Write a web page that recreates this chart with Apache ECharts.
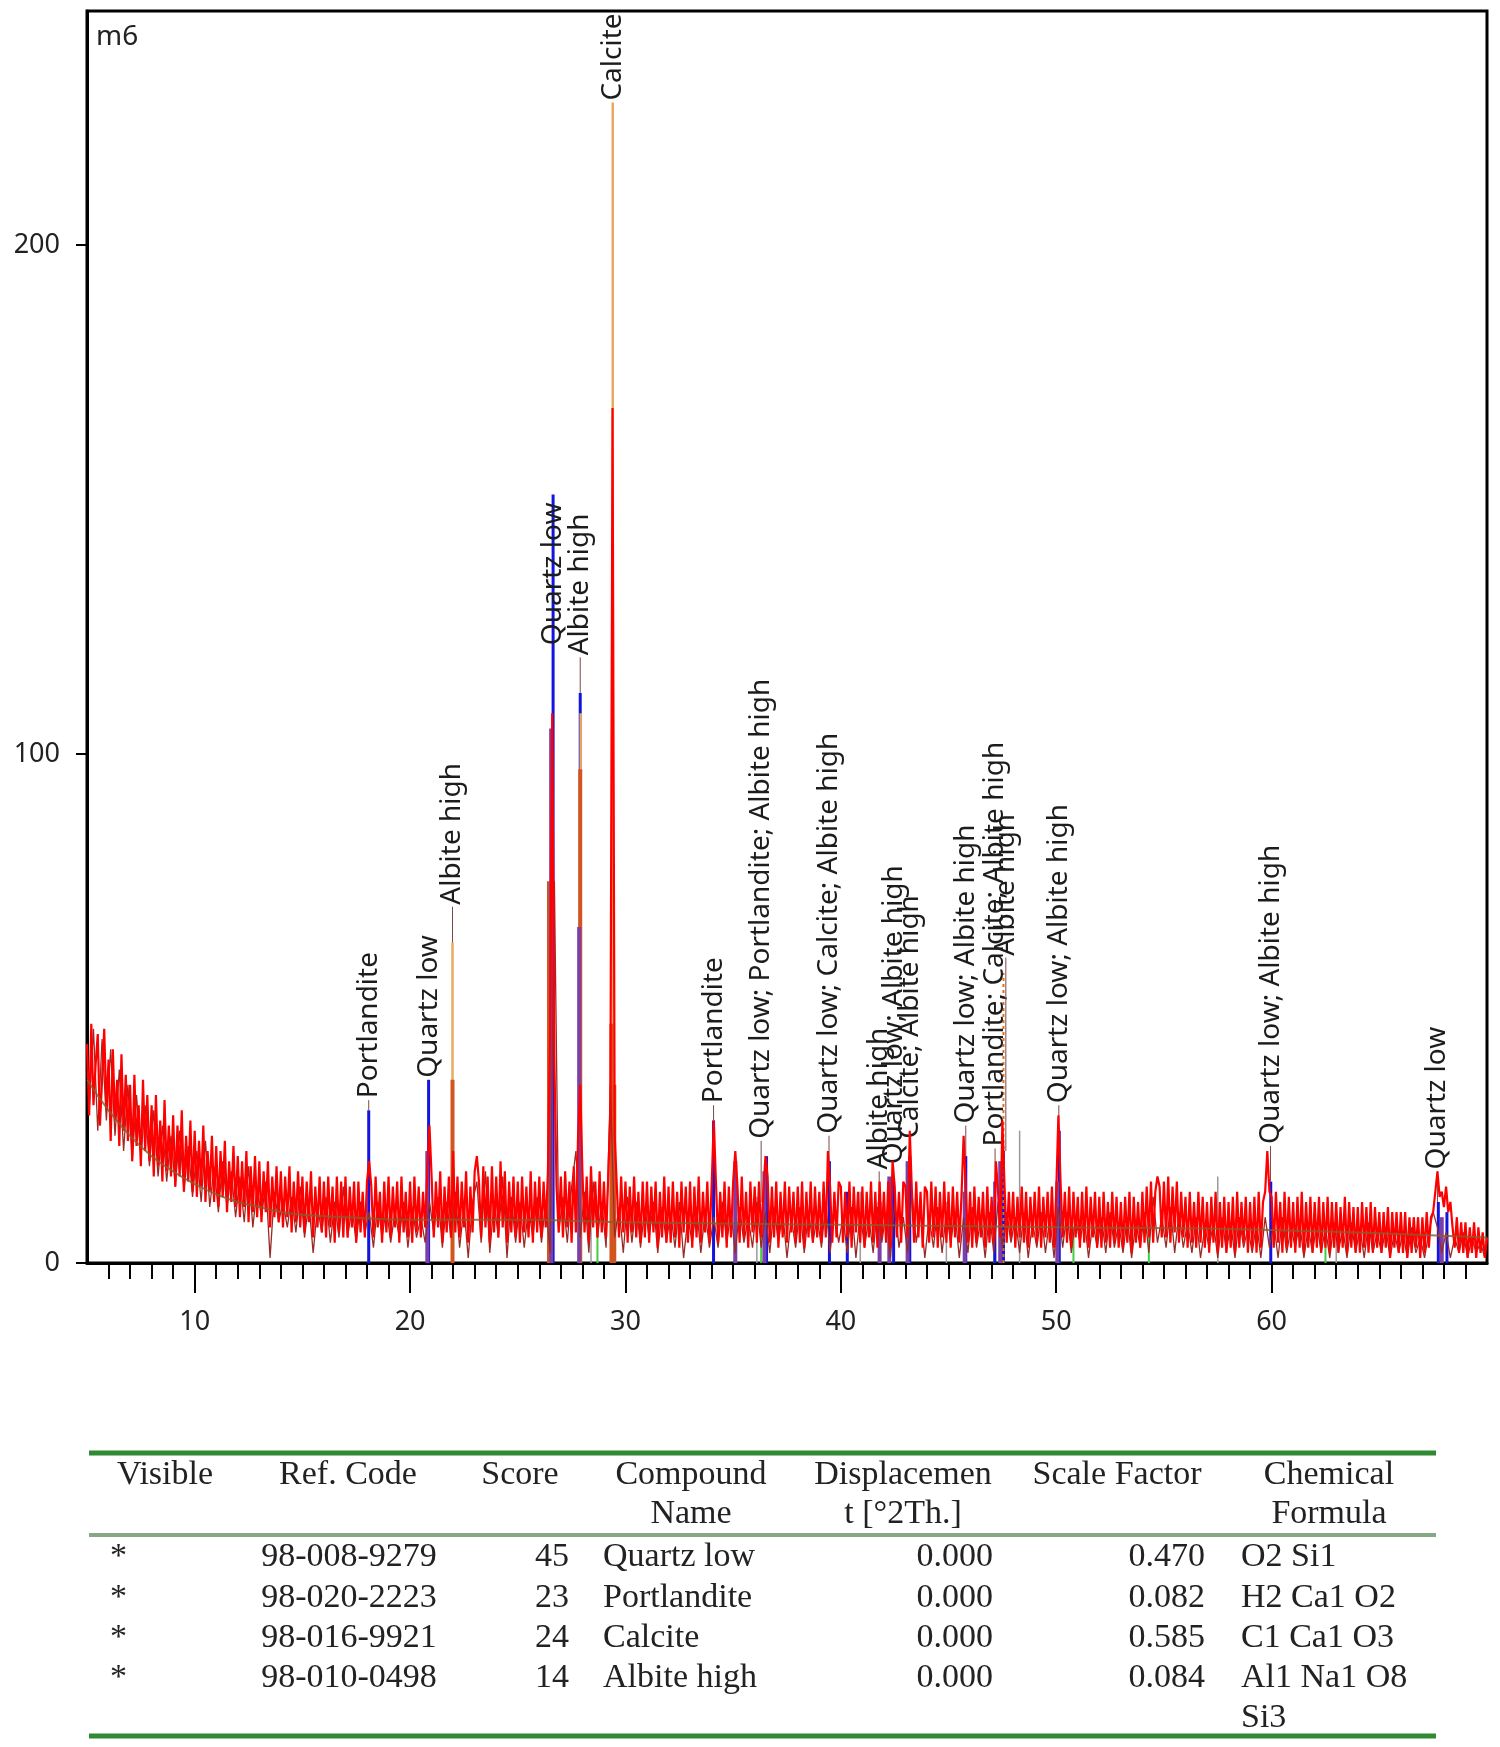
<!DOCTYPE html>
<html>
<head>
<meta charset="utf-8">
<title>m6</title>
<script src="https://cdn.jsdelivr.net/npm/echarts@6/dist/echarts.min.js"></script>
<style>
html, body { margin: 0; padding: 0; background: #fff; }
#chart { width: 1500px; height: 1747px; }
</style>
</head>
<body>
<div id="chart"></div>
<script>
// observed scan, counts, from 5.0 °2Th in steps of 0.1
var obsStart = 5.0, obsStep = 0.1;
var observed = [
43,29,47,31,39,45,27,36,46,30, 40,24,42,28,36,23,41,26,37,24,
35,20,37,23,31,19,36,22,33,20, 31,17,33,19,28,16,32,18,27,17,
29,15,27,17,30,14,25,16,28,14, 26,13,24,15,27,12,22,14,25,12,
23,11,22,13,24,10,20,12,23,11, 21,9,20,11,22,8,19,10,21,9,
20,8,18,10,20,7,17,9,19,8, 18,7,17,9,19,6,16,8,18,7,
17,6,16,8,18,5,15,7,17,6, 16,5,17,7,15,4,17,6,16,5,
17,5,15,7,16,4,16,6,14,5, 16,20,15,5,17,7,14,4,16,6,
17,5,15,7,16,4,17,6,14,5, 16,4,17,6,15,5,14,7,18,27,
17,5,16,7,18,4,15,6,17,5, 22,6,17,5,16,7,18,4,15,6,
18,21,16,5,19,7,17,4,19,6, 17,5,20,7,18,4,16,6,17,5,
16,4,17,6,15,5,18,4,16,6, 17,5,16,7,18,45,108,40,15,6,
17,5,18,7,16,4,19,6,25,35, 18,6,17,4,19,7,16,5,18,6,
16,5,17,30,168,25,15,5,17,6, 16,4,15,6,17,5,14,4,16,5,
16,4,15,6,16,3,14,5,17,4, 15,4,16,5,14,3,16,6,15,4,
16,3,15,5,17,4,14,6,16,4, 15,28,16,4,14,5,16,3,15,5,
16,22,15,4,17,5,14,3,16,6, 15,4,16,5,14,21,17,4,15,5,
16,3,14,5,16,4,15,6,14,4, 15,4,16,3,14,5,16,4,15,5,
14,4,16,5,22,15,4,14,5,16, 15,4,14,5,16,3,15,6,14,4,
15,3,14,5,16,4,14,3,16,5, 14,4,16,3,20,15,5,14,4,16,
15,5,26,14,4,16,5,14,3,15, 14,4,16,5,15,3,14,5,16,4,
14,3,15,5,14,4,13,25,15,4, 14,3,15,4,13,5,14,3,15,4,
13,4,20,14,5,28,15,4,14,5, 14,3,13,5,15,4,14,3,13,5,
14,4,15,3,13,5,14,4,15,3, 14,29,16,5,14,4,15,3,14,5,
13,3,14,4,15,3,13,5,14,3, 13,3,14,4,12,3,14,4,13,3,
12,3,13,4,14,2,13,4,12,3, 14,4,15,5,16,4,14,17,15,5,
16,5,17,4,15,6,16,4,14,5, 13,3,14,4,12,3,14,4,13,3,
12,2,13,4,14,2,12,3,13,2, 12,3,13,2,14,3,12,4,13,2,
12,3,13,2,14,3,12,14,22,14, 13,3,14,4,12,2,14,3,13,3,
12,2,13,3,14,2,12,3,13,2, 12,3,13,2,12,3,13,2,12,3,
12,2,11,3,13,2,12,3,11,2, 11,2,12,3,11,2,12,2,11,3,
10,2,10,3,11,1,10,3,10,2, 10,2,10,1,9,2,9,3,9,1,
9,2,10,3,9,10,14,18,13,14, 11,15,10,12,7,3,9,2,8,2,
8,1,7,2,8,1,7,2,6,1,
5
];

// second (raw) trace, from 5.1 °2Th in steps of 0.2
var rawStart = 5.1, rawStep = 0.2;
var rawScan = [
30,46,26,44,28, 42,25,38,22,35, 20,33,21,31,19, 30,17,27,16,25,
15,26,14,23,13, 22,12,24,11,19, 10,20,11,18,9, 17,8,19,7,15,
9,16,1,14,8, 12,7,13,6,15, 5,12,2,11,6, 13,4,12,5,15,
5,11,4,12,6, 10,3,12,5,11, 4,10,5,12,3, 11,5,9,4,12,
6,13,3,12,5, 14,3,11,1,12, 16,4,18,2,12, 5,17,1,13,4,
12,3,11,5,13, 4,12,2,75,6, 13,4,15,22,5, 14,2,16,5,12,
3,35,5,11,2, 13,4,12,3,11, 5,12,2,11,4, 10,3,12,1,9,
4,11,2,10,3, 9,3,12,4,10, 2,11,4,9,3, 12,3,10,2,11,
4,10,1,9,3, 11,2,10,4,9, 3,12,2,10,4, 9,2,11,1,10,
3,9,2,11,4, 10,1,12,3,9, 2,14,4,10,1, 9,3,11,2,10,
4,10,1,9,2, 11,3,9,1,10, 2,12,3,10,4, 9,2,10,1,8,
3,10,2,9,1, 11,3,10,2,9, 4,9,1,8,3, 9,2,10,3,8,
2,9,1,8,3, 10,2,13,4,9, 3,11,2,10,3, 8,2,9,1,7,
3,8,1,9,2, 8,1,9,3,7, 2,8,1,9,3, 8,1,9,2,7,
3,8,1,7,2, 8,2,7,1,8, 2,7,1,8,2, 7,1,8,2,6,
2,7,1,6,2, 6,1,7,2,5, 1,6,10,7,2, 6,1,5,2,6,
1,5,2,4,1
];

// fitted background
var bgX = [5, 6, 7, 8, 9, 10, 11, 12, 13, 14, 15, 17, 20, 25, 30, 40, 50, 60, 70];
var bgY = [36, 30, 25, 21, 18, 15.5, 13.5, 12, 11, 10, 9.5, 9, 8.5, 8.5, 8, 7.5, 7, 6.5, 5];

// peak profiles [2Th, counts]
var bluePeaks = [[18.08, 30], [20.86, 36], [26.64, 151], [27.9, 112], [34.09, 28], [35.1, 18],
  [36.55, 21], [39.47, 20], [40.3, 14], [42.45, 16], [43.2, 21], [45.8, 21], [47.15, 16],
  [47.55, 22], [50.14, 26], [59.96, 16], [67.74, 12], [68.14, 10]];
var tanPeaks = [[21.97, 63], [27.92, 108], [29.41, 228]];
var orangePeaks = [[21.97, 36], [26.45, 75], [27.9, 97], [29.35, 47], [29.48, 35]];
var purplePeaks = [[20.8, 22], [26.55, 105], [27.85, 66], [35.1, 20], [36.45, 18], [41.8, 12],
  [42.25, 17], [43.1, 20], [45.75, 14], [47.4, 20], [50.05, 16], [67.9, 9]];
var greenSticks = [[18.08, 9], [28.7, 7], [34.09, 10], [36.3, 8], [47.12, 9], [50.8, 7], [54.3, 6], [62.5, 6]];
var lightBlueSticks = [[20.86, 10], [26.64, 14], [29.41, 12], [39.47, 8], [50.14, 8]];
var graySticks = [[28.4, 15], [36.1, 13], [40.9, 14], [44.9, 12], [48.3, 26], [57.5, 17], [63.0, 11]];
var dottedSticks = [[47.55, 57]];

// peak labels [2Th, peak top, label foot, text]
var peakLabels = [
  [18.08, 30, 32, 'Portlandite'],
  [20.86, 36, 36, 'Quartz low'],
  [21.97, 63, 70, 'Albite high'],
  [26.64, 121, 121, 'Quartz low'],
  [27.9, 112, 119, 'Albite high'],
  [29.41, 228, 228, 'Calcite'],
  [34.09, 28, 31, 'Portlandite'],
  [36.3, 12, 24, 'Quartz low; Portlandite; Albite high'],
  [39.45, 20, 25, 'Quartz low; Calcite; Albite high'],
  [41.78, 12, 18, 'Albite high'],
  [42.45, 16, 19, 'Quartz low; Albite high'],
  [43.2, 21, 24, 'Calcite; Albite high'],
  [45.8, 21, 27, 'Quartz low; Albite high'],
  [47.16, 16, 22.5, 'Portlandite; Calcite; Albite high'],
  [47.66, 22, 60, 'Albite high'],
  [50.12, 26, 31, 'Quartz low; Albite high'],
  [59.95, 16, 23, 'Quartz low; Albite high'],
  [67.7, 12, 18, 'Quartz low']
];

var xMajorTicks = [10, 20, 30, 40, 50, 60];
var yTicks = [0, 100, 200];

// phase table
var tableHeader = [['Visible'], ['Ref. Code'], ['Score'], ['Compound', 'Name'],
  ['Displacemen', 't [°2Th.]'], ['Scale Factor'], ['Chemical', 'Formula']];
var tableRows = [
  ['*', '98-008-9279', '45', 'Quartz low', '0.000', '0.470', 'O2 Si1'],
  ['*', '98-020-2223', '23', 'Portlandite', '0.000', '0.082', 'H2 Ca1 O2'],
  ['*', '98-016-9921', '24', 'Calcite', '0.000', '0.585', 'C1 Ca1 O3'],
  ['*', '98-010-0498', '14', 'Albite high', '0.000', '0.084', 'Al1 Na1 O8\nSi3']
];

var xMinorTicks = [];
for (var t = 6; t < 70; t++) {
  if (t % 10 !== 0) xMinorTicks.push(t);
}

function toPairs(start, step, vals) {
  var out = [];
  for (var i = 0; i < vals.length; i++) {
    out.push([+(start + i * step).toFixed(2), vals[i]]);
  }
  return out;
}

var bgData = [];
for (var b = 0; b < bgX.length; b++) bgData.push([bgX[b], bgY[b]]);

function stickSeries(name, data, color, width, dash) {
  return {
    type: 'custom',
    name: name,
    silent: true,
    encode: { x: 0, y: 1 },
    data: data,
    renderItem: function(params, api) {
      var top = api.coord([api.value(0), api.value(1)]);
      var base = api.coord([api.value(0), 0]);
      return {
        type: 'line',
        shape: { x1: base[0], y1: base[1], x2: top[0], y2: top[1] },
        style: { stroke: color, lineWidth: width, lineDash: dash || null }
      };
    }
  };
}

var labelFont = '28px "Noto Sans", sans-serif';
var tableFont = '34px "Liberation Serif", serif';

var labelSeries = {
  type: 'custom',
  name: 'labels',
  silent: true,
  encode: { x: 0, y: 2 },
  data: peakLabels.map(function(d) { return [d[0], d[1], d[2]]; }),
  renderItem: function(params, api) {
    var x = api.value(0);
    var p0 = api.coord([x, api.value(1)]);
    var p1 = api.coord([x, api.value(2)]);
    return {
      type: 'group',
      children: [{
        type: 'line',
        shape: { x1: p0[0], y1: p0[1], x2: p1[0], y2: p1[1] },
        style: { stroke: '#7a4a4a', lineWidth: 1 }
      }, {
        type: 'text',
        x: p1[0],
        y: p1[1] - 2,
        rotation: Math.PI / 2,
        style: {
          text: peakLabels[params.dataIndex][3],
          fill: '#1c1c1c',
          font: labelFont,
          align: 'left', verticalAlign: 'middle',
          textAlign: 'left', textVerticalAlign: 'middle'
        }
      }]
    };
  }
};

// table graphics
var tableLeft = 89, tableRight = 1436;
var headerCenters = [165, 348, 520, 691, 903, 1117, 1329];
var cellPos = [[110, 'left'], [349, 'center'], [569, 'right'], [603, 'left'], [993, 'right'], [1205, 'right'], [1241, 'left']];
var rowTops = [1537, 1578, 1618, 1658];
var graphics = [
  { type: 'text', x: 96, y: 37, style: { text: 'm6', font: '28px "Noto Sans", sans-serif', fill: '#222',
    align: 'left', verticalAlign: 'middle', textAlign: 'left', textVerticalAlign: 'middle' } },
  { type: 'line', shape: { x1: tableLeft, y1: 1453, x2: tableRight, y2: 1453 }, style: { stroke: '#2f8a33', lineWidth: 5 } },
  { type: 'line', shape: { x1: tableLeft, y1: 1535, x2: tableRight, y2: 1535 }, style: { stroke: '#86a886', lineWidth: 4 } },
  { type: 'line', shape: { x1: tableLeft, y1: 1736, x2: tableRight, y2: 1736 }, style: { stroke: '#2f8a33', lineWidth: 5 } }
];
tableHeader.forEach(function(h, i) {
  graphics.push({ type: 'text', x: headerCenters[i], y: 1456, style: {
    text: h.join('\n'), font: tableFont, fill: '#222', lineHeight: 39,
    align: 'center', verticalAlign: 'top', textAlign: 'center', textVerticalAlign: 'top' } });
});
tableRows.forEach(function(r, j) {
  r.forEach(function(cell, i) {
    graphics.push({ type: 'text', x: cellPos[i][0], y: rowTops[j], style: {
      text: cell, font: tableFont, fill: '#222', lineHeight: 40,
      align: cellPos[i][1], verticalAlign: 'top', textAlign: cellPos[i][1], textVerticalAlign: 'top' } });
  });
});

var chart = echarts.init(document.getElementById('chart'));
chart.setOption({
  animation: false,
  backgroundColor: '#fff',
  grid: { left: 87, right: 13, top: 11, bottom: 484, show: true, borderColor: '#000', borderWidth: 3 },
  xAxis: [{
    type: 'value', min: 5, max: 70,
    axisLine: { show: true, lineStyle: { color: '#000', width: 3 } },
    axisTick: { show: true, customValues: xMajorTicks, length: 30, lineStyle: { color: '#000', width: 2 } },
    axisLabel: { customValues: xMajorTicks, margin: 46, fontSize: 27, color: '#222', fontFamily: 'Noto Sans' },
    splitLine: { show: false }
  }, {
    type: 'value', min: 5, max: 70, position: 'bottom',
    axisLine: { show: false },
    axisTick: { show: true, customValues: xMinorTicks, length: 16, lineStyle: { color: '#000', width: 2 } },
    axisLabel: { show: false },
    splitLine: { show: false }
  }],
  yAxis: {
    type: 'value', min: 0, max: 246,
    axisLine: { show: true, lineStyle: { color: '#000', width: 3 } },
    axisTick: { show: true, customValues: yTicks, length: 11, lineStyle: { color: '#000', width: 2 } },
    axisLabel: { customValues: yTicks, margin: 27, fontSize: 27, color: '#222', fontFamily: 'Noto Sans' },
    splitLine: { show: false }
  },
  graphic: graphics,
  series: [
    { type: 'line', name: 'raw', data: toPairs(rawStart, rawStep, rawScan), showSymbol: false, silent: true,
      lineStyle: { color: '#9a2a26', width: 1.3 } },
    { type: 'line', name: 'observed', data: toPairs(obsStart, obsStep, observed), showSymbol: false, silent: true,
      lineStyle: { color: '#ff0000', width: 2.2 } },
    { type: 'line', name: 'background', data: bgData, smooth: true, showSymbol: false, silent: true,
      lineStyle: { color: '#8b5a2b', width: 2, opacity: 0.8 } },
    stickSeries('green', greenSticks, '#44cc44', 2),
    stickSeries('lightblue', lightBlueSticks, '#88bbee', 2),
    stickSeries('gray', graySticks, '#9a9a9a', 1.5),
    stickSeries('blue', bluePeaks, '#1414e0', 3),
    stickSeries('tan', tanPeaks, '#e8aa60', 2.5),
    stickSeries('orange', orangePeaks, '#d2541e', 4),
    stickSeries('purple', purplePeaks, '#7b3fa8', 4),
    stickSeries('dotted', dottedSticks, '#e07020', 2, [3, 3]),
    labelSeries
  ]
});
</script>
</body>
</html>
